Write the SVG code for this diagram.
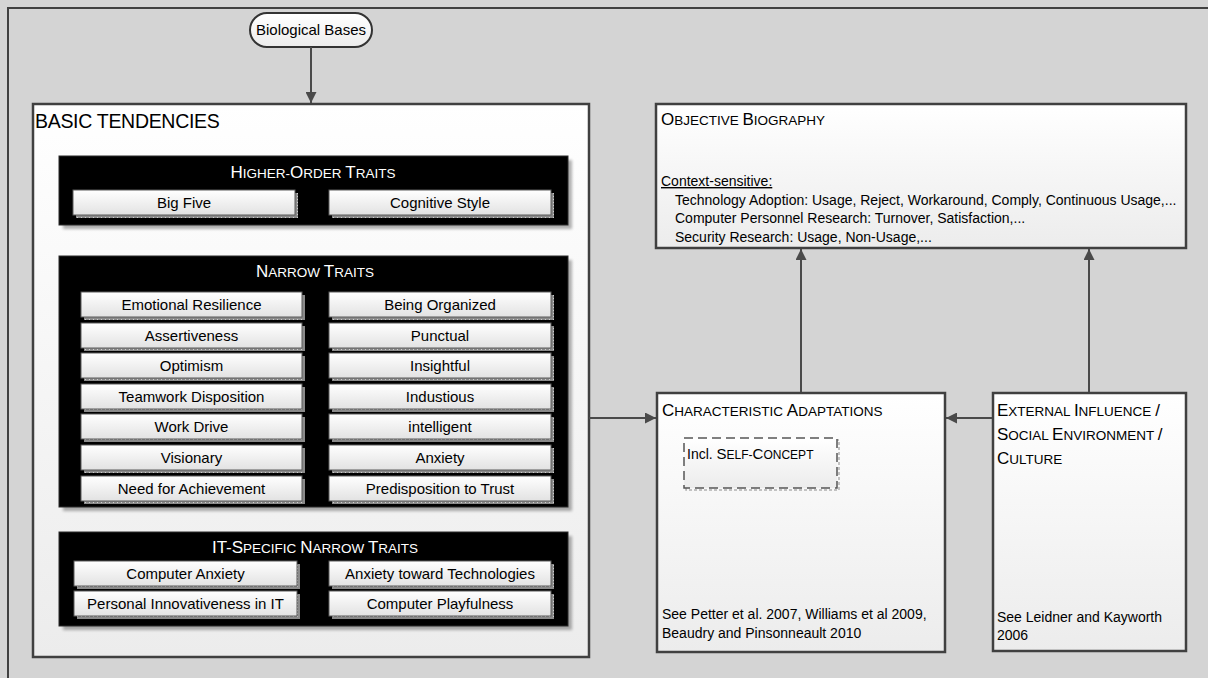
<svg xmlns="http://www.w3.org/2000/svg" width="1208" height="678" viewBox="0 0 1208 678">
<defs>
<linearGradient id="gBig" x1="0" y1="0" x2="0" y2="1"><stop offset="0" stop-color="#ffffff"/><stop offset="1" stop-color="#ececec"/></linearGradient>
<linearGradient id="gTrait" x1="0" y1="0" x2="0" y2="1"><stop offset="0" stop-color="#ffffff"/><stop offset="1" stop-color="#e2e2e2"/></linearGradient>
<pattern id="pShadow" width="4" height="3" patternUnits="userSpaceOnUse"><rect width="4" height="3" fill="#8a8a8a"/><rect x="1" y="1" width="1" height="1" fill="#cfcfcf"/></pattern>
<filter id="fBlur" x="-5%" y="-5%" width="110%" height="110%"><feGaussianBlur stdDeviation="1.5"/></filter>
<marker id="arr" viewBox="0 0 10 10" refX="10" refY="5" markerWidth="11" markerHeight="11" markerUnits="userSpaceOnUse" orient="auto"><path d="M0,0 L10,5 L0,10 z" fill="#4a4a4a"/></marker>
<style>
text{font-family:"Liberation Sans",Arial,sans-serif;fill:#000}
.big{fill:url(#gBig);stroke:#404040;stroke-width:2.5}
.blk{fill:#000;stroke:#2a2a2a;stroke-width:1}
.blkSh{fill:#000;opacity:0.3;filter:url(#fBlur)}
.tr{fill:url(#gTrait);stroke:#5a5a5a;stroke-width:1}
.sh{fill:url(#pShadow)}
.tt{font-size:15px;text-anchor:middle}
.wt{fill:#fff}
.C{font-size:17px}
.s{font-size:13.5px}
.conn{stroke:#4a4a4a;stroke-width:2;fill:none;marker-end:url(#arr)}
.sm{font-size:14px}
</style>
</defs>
<rect x="0" y="0" width="1208" height="678" fill="#d4d4d4"/>
<rect x="8" y="8" width="1240" height="720" fill="#d4d4d4" stroke="#404040" stroke-width="2"/>

<g id="biological-bases">
<rect x="250" y="13" width="122" height="34" rx="17" ry="17" fill="url(#gBig)" stroke="#333" stroke-width="2"/>
<text x="311" y="35" class="tt">Biological Bases</text>
</g>

<g id="basic-tendencies">
<rect x="33" y="104" width="556" height="553" class="big" stroke-width="2"/>
<text x="35" y="128" font-size="19.5" letter-spacing="-0.3">BASIC TENDENCIES</text>
</g>

<g id="higher-order-traits">
<rect x="63" y="160" width="509" height="69" class="blkSh"/>
<rect x="59" y="156" width="509" height="69" class="blk"/>
<text x="313" y="178" text-anchor="middle" class="wt"><tspan class="C">H</tspan><tspan class="s">IGHER-</tspan><tspan class="C">O</tspan><tspan class="s">RDER </tspan><tspan class="C">T</tspan><tspan class="s">RAITS</tspan></text>
<g id="big-five"><rect x="76" y="193" width="222" height="25" class="sh"/><rect x="73" y="190" width="222" height="25" class="tr"/><text x="184" y="208" class="tt">Big Five</text></g>
<g id="cognitive-style"><rect x="332" y="193" width="222" height="25" class="sh"/><rect x="329" y="190" width="222" height="25" class="tr"/><text x="440" y="208" class="tt">Cognitive Style</text></g>
</g>

<g id="narrow-traits">
<rect x="63" y="260" width="509" height="251" class="blkSh"/>
<rect x="59" y="256" width="509" height="251" class="blk"/>
<text x="315" y="277" text-anchor="middle" class="wt"><tspan class="C">N</tspan><tspan class="s">ARROW </tspan><tspan class="C">T</tspan><tspan class="s">RAITS</tspan></text>
<g id="emotional-resilience"><rect x="84" y="295" width="221" height="25" class="sh"/><rect x="81" y="292" width="221" height="25" class="tr"/><text x="191.5" y="310" class="tt">Emotional Resilience</text></g>
<g id="being-organized"><rect x="332" y="295" width="222" height="25" class="sh"/><rect x="329" y="292" width="222" height="25" class="tr"/><text x="440" y="310" class="tt">Being Organized</text></g>
<g id="assertiveness"><rect x="84" y="326" width="221" height="25" class="sh"/><rect x="81" y="323" width="221" height="25" class="tr"/><text x="191.5" y="341" class="tt">Assertiveness</text></g>
<g id="punctual"><rect x="332" y="326" width="222" height="25" class="sh"/><rect x="329" y="323" width="222" height="25" class="tr"/><text x="440" y="341" class="tt">Punctual</text></g>
<g id="optimism"><rect x="84" y="356" width="221" height="25" class="sh"/><rect x="81" y="353" width="221" height="25" class="tr"/><text x="191.5" y="371" class="tt">Optimism</text></g>
<g id="insightful"><rect x="332" y="356" width="222" height="25" class="sh"/><rect x="329" y="353" width="222" height="25" class="tr"/><text x="440" y="371" class="tt">Insightful</text></g>
<g id="teamwork-disposition"><rect x="84" y="387" width="221" height="25" class="sh"/><rect x="81" y="384" width="221" height="25" class="tr"/><text x="191.5" y="402" class="tt">Teamwork Disposition</text></g>
<g id="industrious"><rect x="332" y="387" width="222" height="25" class="sh"/><rect x="329" y="384" width="222" height="25" class="tr"/><text x="440" y="402" class="tt">Industious</text></g>
<g id="work-drive"><rect x="84" y="417" width="221" height="25" class="sh"/><rect x="81" y="414" width="221" height="25" class="tr"/><text x="191.5" y="432" class="tt">Work Drive</text></g>
<g id="intelligent"><rect x="332" y="417" width="222" height="25" class="sh"/><rect x="329" y="414" width="222" height="25" class="tr"/><text x="440" y="432" class="tt">intelligent</text></g>
<g id="visionary"><rect x="84" y="448" width="221" height="25" class="sh"/><rect x="81" y="445" width="221" height="25" class="tr"/><text x="191.5" y="463" class="tt">Visionary</text></g>
<g id="anxiety"><rect x="332" y="448" width="222" height="25" class="sh"/><rect x="329" y="445" width="222" height="25" class="tr"/><text x="440" y="463" class="tt">Anxiety</text></g>
<g id="need-for-achievement"><rect x="84" y="479" width="221" height="25" class="sh"/><rect x="81" y="476" width="221" height="25" class="tr"/><text x="191.5" y="494" class="tt">Need for Achievement</text></g>
<g id="predisposition-to-trust"><rect x="332" y="479" width="222" height="25" class="sh"/><rect x="329" y="476" width="222" height="25" class="tr"/><text x="440" y="494" class="tt">Predisposition to Trust</text></g>
</g>

<g id="it-specific-narrow-traits">
<rect x="63" y="536" width="509" height="94" class="blkSh"/>
<rect x="59" y="532" width="509" height="94" class="blk"/>
<text x="315" y="553" text-anchor="middle" class="wt"><tspan class="C">IT-S</tspan><tspan class="s">PECIFIC </tspan><tspan class="C">N</tspan><tspan class="s">ARROW </tspan><tspan class="C">T</tspan><tspan class="s">RAITS</tspan></text>
<g id="computer-anxiety"><rect x="77" y="564" width="223" height="25" class="sh"/><rect x="74" y="561" width="223" height="25" class="tr"/><text x="185.5" y="579" class="tt">Computer Anxiety</text></g>
<g id="anxiety-toward-technologies"><rect x="332" y="564" width="222" height="25" class="sh"/><rect x="329" y="561" width="222" height="25" class="tr"/><text x="440" y="579" class="tt">Anxiety toward Technologies</text></g>
<g id="personal-innovativeness"><rect x="77" y="594" width="223" height="25" class="sh"/><rect x="74" y="591" width="223" height="25" class="tr"/><text x="185.5" y="609" class="tt">Personal Innovativeness in IT</text></g>
<g id="computer-playfulness"><rect x="332" y="594" width="222" height="25" class="sh"/><rect x="329" y="591" width="222" height="25" class="tr"/><text x="440" y="609" class="tt">Computer Playfulness</text></g>
</g>

<g id="objective-biography">
<rect x="656" y="104" width="530" height="144" class="big"/>
<text x="661" y="125"><tspan class="C">O</tspan><tspan class="s">BJECTIVE </tspan><tspan class="C">B</tspan><tspan class="s">IOGRAPHY</tspan></text>
<text x="661" y="186" class="sm" text-decoration="underline">Context-sensitive:</text>
<text x="675" y="205" class="sm">Technology Adoption: Usage, Reject, Workaround, Comply, Continuous Usage,...</text>
<text x="675" y="223" class="sm">Computer Personnel Research: Turnover, Satisfaction,...</text>
<text x="675" y="242" class="sm">Security Research: Usage, Non-Usage,...</text>
</g>

<g id="characteristic-adaptations">
<rect x="657" y="393" width="288" height="259" class="big"/>
<text x="662" y="416"><tspan class="C">C</tspan><tspan class="s">HARACTERISTIC </tspan><tspan class="C">A</tspan><tspan class="s">DAPTATIONS</tspan></text>
<text x="662" y="619" class="sm">See Petter et al. 2007, Williams et al 2009,</text>
<text x="662" y="638" class="sm">Beaudry and Pinsonneault 2010</text>
</g>

<g id="self-concept">
<rect x="686" y="440" width="153" height="50" fill="none" stroke="#b0b0b0" stroke-width="1.5" stroke-dasharray="3 2"/>
<rect x="684" y="438" width="153" height="50" fill="url(#gBig)" stroke="#555" stroke-width="1.5" stroke-dasharray="9 5"/>
<text x="687" y="459"><tspan font-size="14">Incl. </tspan><tspan font-size="15">S</tspan><tspan font-size="12">ELF-</tspan><tspan font-size="15">C</tspan><tspan font-size="12">ONCEPT</tspan></text>
</g>

<g id="external-influence">
<rect x="993" y="393" width="193" height="258" class="big"/>
<text x="997" y="416"><tspan class="C">E</tspan><tspan class="s">XTERNAL </tspan><tspan class="C">I</tspan><tspan class="s">NFLUENCE </tspan><tspan class="C">/</tspan></text>
<text x="997" y="440"><tspan class="C">S</tspan><tspan class="s">OCIAL </tspan><tspan class="C">E</tspan><tspan class="s">NVIRONMENT </tspan><tspan class="C">/</tspan></text>
<text x="997" y="464"><tspan class="C">C</tspan><tspan class="s">ULTURE</tspan></text>
<text x="997" y="622" class="sm">See Leidner and Kayworth</text>
<text x="997" y="640" class="sm">2006</text>
</g>

<g id="connectors">
<path class="conn" d="M311,47 L311,103"/>
<path class="conn" d="M589,418 L656,418"/>
<path class="conn" d="M992,418 L946,418"/>
<path class="conn" d="M801,392 L801,249"/>
<path class="conn" d="M1089,392 L1089,249"/>
</g>
</svg>
